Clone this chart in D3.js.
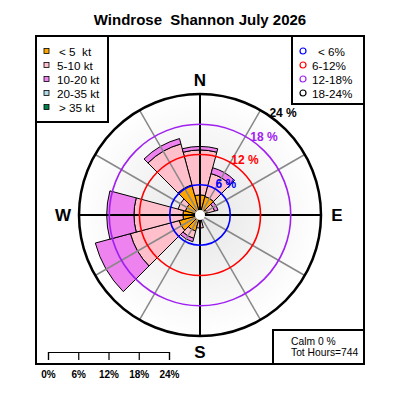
<!DOCTYPE html>
<html>
<head>
<meta charset="utf-8">
<script src="https://cdn.jsdelivr.net/npm/d3@7"></script>
<style>
  body { margin: 0; background: #fff; }
  text { font-family: "Liberation Sans", Arial, sans-serif; white-space: pre; }
</style>
</head>
<body>
<svg width="400" height="400"></svg>
<script>
// wind direction sectors (deg from north) and the share of hours (%) per speed class
const directions = [0, 30, 60, 90, 120, 150, 180, 210, 240, 270, 300, 330];
const speedClasses = ["< 5  kt", "5-10 kt", "10-20 kt", "20-35 kt", "> 35 kt"];
const below5 = [4.0, 3.8, 1.5, 0.6, 0.4, 0.6, 1.4, 3.3, 4.3, 3.4, 3.0, 6.2];
const from5to10 = [8.9, 4.7, 1.5, 0, 0, 0, 1.2, 1.5, 10.0, 9.7, 1.5, 8.4];
const from10to20 = [0.7, 1.2, 0.7, 0, 0, 0, 0, 0.7, 7.2, 5.4, 0, 1.1];
const from20to35 = [0, 0, 0, 0, 0, 0, 0, 0, 0, 0, 0, 0];
const above35 = [0, 0, 0, 0, 0, 0, 0, 0, 0, 0, 0, 0];
const rings = [6, 12, 18, 24];
const ringLabels = ["< 6%", "6-12%", "12-18%", "18-24%"];
const calm = 0;
const totHours = 744;

const classColors = ["orange", "pink", "violet", "lightblue", "#00804d"];
const ringColors = ["blue", "red", "#a020f0", "black"];

const svg = d3.select("svg");
const cx = 200, cy = 215;

const r = d3.scaleLinear([0, 24], [0, 121]);

// build a table for d3.stack
const series = [below5, from5to10, from10to20, from20to35, above35];
const table = directions.map((d, i) => {
  const row = { dir: d };
  speedClasses.forEach((k, j) => (row[k] = series[j][i]));
  return row;
});
const stacked = d3.stack().keys(speedClasses)(table);

// title
svg.append("text")
  .attr("x", 200).attr("y", 25)
  .attr("text-anchor", "middle")
  .attr("font-size", 15).attr("font-weight", "bold")
  .text("Windrose  Shannon July 2026");

// frame
svg.append("rect")
  .attr("x", 36).attr("y", 36).attr("width", 328).attr("height", 328)
  .attr("fill", "none").attr("stroke", "black").attr("stroke-width", 2);

const g = svg.append("g").attr("transform", `translate(${cx},${cy})`);

// shaded background
const grad = svg.append("defs").append("radialGradient").attr("id", "bg");
grad.append("stop").attr("offset", "0%").attr("stop-color", "#e6e6e6");
grad.append("stop").attr("offset", "100%").attr("stop-color", "#ffffff");
g.append("circle").attr("r", r(24)).attr("fill", "url(#bg)");

// bars
const arc = d3.arc()
  .innerRadius((d) => r(d[0]))
  .outerRadius((d) => r(d[1]))
  .startAngle((d) => ((d.data.dir - 15) * Math.PI) / 180)
  .endAngle((d) => ((d.data.dir + 15) * Math.PI) / 180);

stacked.forEach((layer, j) => {
  g.selectAll(".bar" + j)
    .data(layer.filter((d) => d[1] - d[0] > 0))
    .enter()
    .append("path")
    .attr("d", arc)
    .attr("fill", classColors[j])
    .attr("stroke", "black")
    .attr("stroke-width", 1);
});

// spokes
const spokes = d3.range(0, 360, 30);
g.selectAll(".spoke")
  .data(spokes)
  .enter()
  .append("line")
  .attr("x1", 0).attr("y1", 0)
  .attr("x2", (d) => r(24) * Math.sin((d * Math.PI) / 180))
  .attr("y2", (d) => -r(24) * Math.cos((d * Math.PI) / 180))
  .attr("stroke", (d) => (d % 90 === 0 ? "black" : "#888"))
  .attr("stroke-width", (d) => (d % 90 === 0 ? 2 : 1.5));

// rings
g.selectAll(".ring")
  .data(rings)
  .enter()
  .append("circle")
  .attr("r", (d) => r(d))
  .attr("fill", "none")
  .attr("stroke", (d, i) => ringColors[i])
  .attr("stroke-width", (d, i) => (i === 3 ? 2.5 : 1.6));

// calm circle
g.append("circle").attr("r", 5).attr("fill", "white");

// ring labels
const la = (39 * Math.PI) / 180;
g.selectAll(".rlab")
  .data(rings)
  .enter()
  .append("text")
  .attr("x", (d) => (r(d) + 11) * Math.sin(la))
  .attr("y", (d) => -(r(d) + 10) * Math.cos(la))
  .attr("text-anchor", "middle")
  .attr("dominant-baseline", "central")
  .attr("font-size", 12).attr("font-weight", "bold")
  .attr("fill", (d, i) => ringColors[i])
  .text((d) => d + " %");

// compass letters
const compass = [
  { t: "N", x: 0, y: -135 },
  { t: "E", x: 137, y: 0 },
  { t: "S", x: 0, y: 137 },
  { t: "W", x: -137, y: 0 },
];
g.selectAll(".cmp")
  .data(compass)
  .enter()
  .append("text")
  .attr("x", (d) => d.x)
  .attr("y", (d) => d.y)
  .attr("text-anchor", "middle")
  .attr("dominant-baseline", "central")
  .attr("font-size", 17).attr("font-weight", "bold")
  .text((d) => d.t);

// speed legend
svg.append("rect")
  .attr("x", 36).attr("y", 36).attr("width", 72).attr("height", 86)
  .attr("fill", "white").attr("stroke", "black").attr("stroke-width", 2);
const leg = svg.selectAll(".leg")
  .data(speedClasses)
  .enter()
  .append("g")
  .attr("transform", (d, i) => `translate(0,${51 + i * 14})`);
leg.append("rect")
  .attr("x", 44).attr("y", -2.5).attr("width", 5).attr("height", 5)
  .attr("fill", (d, i) => classColors[i])
  .attr("stroke", "black").attr("stroke-width", 0.8);
leg.append("text")
  .attr("x", (d, i) => (i === 0 || i === 4 ? 59 : 57))
  .attr("dominant-baseline", "central")
  .attr("font-size", 11.7)
  .text((d) => d);

// ring legend
svg.append("rect")
  .attr("x", 292).attr("y", 36).attr("width", 72).attr("height", 68)
  .attr("fill", "white").attr("stroke", "black").attr("stroke-width", 2);
const rleg = svg.selectAll(".rleg")
  .data(ringLabels)
  .enter()
  .append("g")
  .attr("transform", (d, i) => `translate(0,${51 + i * 14})`);
rleg.append("circle")
  .attr("cx", 303).attr("r", 3)
  .attr("fill", "none")
  .attr("stroke", (d, i) => ringColors[i])
  .attr("stroke-width", 1.2);
rleg.append("text")
  .attr("x", (d, i) => (i === 0 ? 318 : 312))
  .attr("dominant-baseline", "central")
  .attr("font-size", 11.7)
  .text((d) => d);

// calm box
svg.append("rect")
  .attr("x", 273).attr("y", 330).attr("width", 91).attr("height", 34)
  .attr("fill", "white").attr("stroke", "black").attr("stroke-width", 2);
svg.append("text")
  .attr("x", 291).attr("y", 345).attr("font-size", 10.3)
  .text(`Calm ${calm} %`);
svg.append("text")
  .attr("x", 291).attr("y", 356).attr("font-size", 10.3)
  .text(`Tot Hours=${totHours}`);

// scale bar
const x = d3.scaleLinear([0, 24], [48, 169]);
const axis = svg.append("g")
  .attr("transform", "translate(0,352)")
  .call(
    d3.axisBottom(x)
      .tickValues([0].concat(rings))
      .tickSizeInner(8).tickSizeOuter(8).tickPadding(11)
      .tickFormat((d) => d + "%")
  );
axis.selectAll("text")
  .attr("font-size", 10).attr("font-weight", "bold")
  .attr("font-family", "Liberation Sans, Arial, sans-serif")
  .attr("fill", "black");
axis.selectAll("line, path").attr("stroke", "black").attr("stroke-width", 1.2);
</script>
</body>
</html>
